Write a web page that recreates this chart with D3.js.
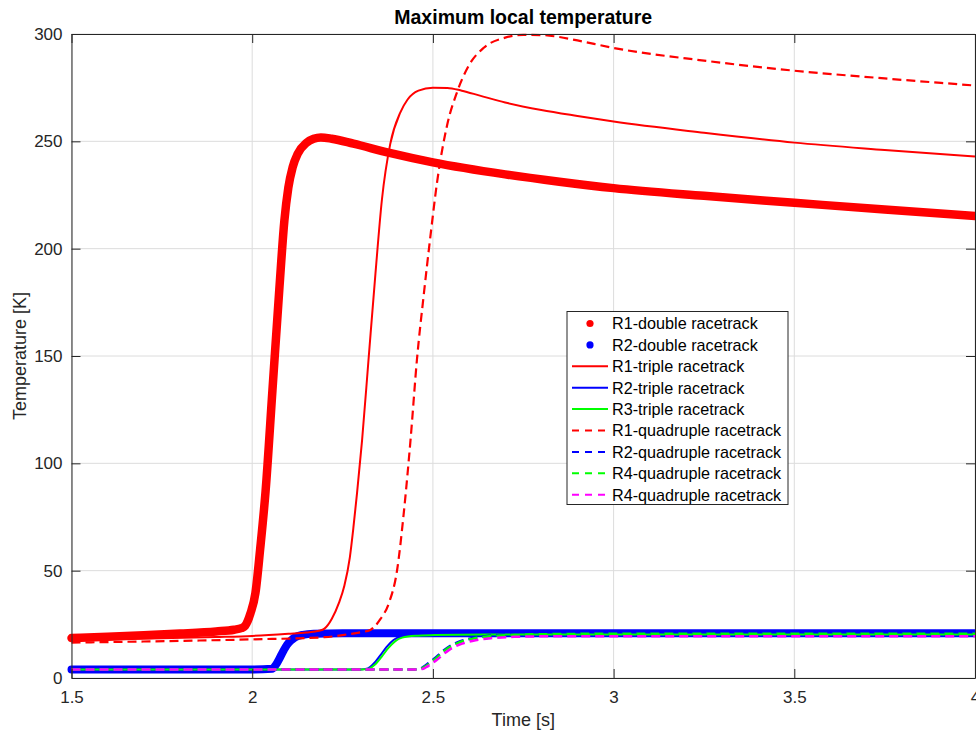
<!DOCTYPE html>
<html>
<head>
<meta charset="utf-8">
<script src="https://cdn.jsdelivr.net/npm/d3@7"></script>
<style>
  html, body { margin: 0; padding: 0; background: #ffffff; }
  svg { display: block; font-family: "Liberation Sans", Arial, sans-serif; }
</style>
</head>
<body>
<svg id="chart" width="976" height="734"></svg>
<script>
// ---------------- data ----------------
const xTicks = [1.5, 2, 2.5, 3, 3.5, 4];
const xTickLabels = ["1.5", "2", "2.5", "3", "3.5", "4"];
const yTicks = [0, 50, 100, 150, 200, 250, 300];
const yTickLabels = ["0", "50", "100", "150", "200", "250", "300"];

const tR1Double = [1.5, 1.6, 1.7, 1.8, 1.9, 1.95, 1.97, 1.98, 1.995, 2.009, 2.022, 2.037, 2.056, 2.075, 2.089, 2.1, 2.112, 2.126, 2.15, 2.17, 2.19, 2.22, 2.28, 2.38, 2.5, 2.7, 2.85, 3.0, 3.25, 3.5, 3.75, 4.0];
const vR1Double = [18.6, 19.2, 19.9, 20.7, 21.7, 22.5, 23.2, 24.2, 30, 39.6, 60, 87, 134, 181, 213, 228.4, 238, 244.2, 249.3, 251.2, 251.8, 251.2, 248.9, 244.6, 240.2, 234.6, 231.2, 228.2, 224.6, 221.4, 218.2, 215.2];

const tR2Double = [1.5, 2.0, 2.055, 2.065, 2.078, 2.087, 2.096, 2.108, 2.119, 2.14, 2.17, 2.25, 2.5, 3.0, 3.5, 4.0];
const vR2Double = [4.0, 4.0, 4.3, 6.0, 9.9, 12.8, 15.4, 17.6, 19.0, 20.1, 20.6, 20.8, 20.8, 20.8, 20.8, 20.8];

const tR1Triple = [1.5, 1.7, 1.9, 2.0, 2.1, 2.15, 2.185, 2.2, 2.22, 2.24, 2.255, 2.27, 2.28, 2.29, 2.304, 2.322, 2.341, 2.359, 2.382, 2.41, 2.43, 2.46, 2.5, 2.54, 2.58, 2.63, 2.7, 2.8, 2.9, 3.0, 3.25, 3.5, 3.75, 4.0];
const vR1Triple = [17.8, 18.4, 19.1, 19.6, 20.6, 21.2, 22.0, 23.0, 27.5, 35, 43, 56, 70, 86, 110.7, 148.6, 188.3, 222.9, 248.8, 263.5, 269.5, 273.6, 275.0, 274.9, 273.6, 271.3, 268.1, 264.6, 261.8, 259.2, 254.0, 249.4, 246.0, 242.9];

const tR2Triple = [1.5, 2.3, 2.32, 2.335, 2.355, 2.372, 2.391, 2.41, 2.447, 2.5, 2.63, 3.0, 4.0];
const vR2Triple = [4.0, 4.0, 4.5, 6.5, 10.7, 14.5, 17.7, 19.2, 20.1, 20.5, 20.8, 20.8, 20.8];

const tR3Triple = [1.5, 2.305, 2.325, 2.34, 2.36, 2.377, 2.396, 2.415, 2.452, 2.505, 2.64, 3.0, 4.0];
const vR3Triple = [4.0, 4.0, 4.5, 6.3, 10.3, 14.0, 17.2, 18.8, 19.7, 20.0, 20.3, 20.3, 20.3];

const tR1Quad = [1.5, 1.8, 2.0, 2.2, 2.262, 2.3, 2.327, 2.341, 2.355, 2.378, 2.401, 2.419, 2.438, 2.456, 2.475, 2.493, 2.512, 2.539, 2.567, 2.6, 2.64, 2.7, 2.75, 2.8, 2.85, 2.9, 3.0, 3.25, 3.5, 3.75, 4.0];
const vR1Quad = [16.5, 17.3, 18.0, 19.0, 20.3, 21.3, 22.4, 24.4, 27.5, 34.8, 50.3, 76.2, 110.7, 148.6, 179, 205.6, 231.5, 257.3, 273, 285.5, 293.5, 298.3, 299.6, 299.5, 298.6, 297.0, 293.5, 287.6, 282.9, 279.3, 276.0];

const tR2Quad = [1.5, 2.45, 2.465, 2.475, 2.49, 2.507, 2.522, 2.539, 2.557, 2.576, 2.613, 2.659, 2.724, 2.8, 3.0, 4.0];
const vR2Quad = [4.0, 4.0, 4.3, 5.3, 7.2, 9.4, 11.7, 14.0, 15.7, 17.1, 18.7, 19.7, 20.3, 20.6, 20.8, 20.8];

const tR4QuadG = [1.5, 2.452, 2.467, 2.477, 2.492, 2.509, 2.524, 2.541, 2.559, 2.578, 2.615, 2.661, 2.726, 2.8, 3.0, 4.0];
const vR4QuadG = [4.0, 4.0, 4.3, 5.2, 7.0, 9.2, 11.5, 13.8, 15.5, 16.9, 18.5, 19.5, 20.1, 20.4, 20.6, 20.6];

const tR4QuadM = [1.5, 2.455, 2.47, 2.48, 2.495, 2.512, 2.527, 2.544, 2.562, 2.581, 2.618, 2.664, 2.729, 2.8, 3.0, 4.0];
const vR4QuadM = [4.0, 4.0, 4.2, 4.9, 6.5, 8.6, 10.8, 13.0, 14.7, 16.0, 17.6, 18.6, 19.2, 19.4, 19.5, 19.5];

const seriesNames = ["R1-double racetrack", "R2-double racetrack", "R1-triple racetrack", "R2-triple racetrack", "R3-triple racetrack", "R1-quadruple racetrack", "R2-quadruple racetrack", "R4-quadruple racetrack", "R4-quadruple racetrack"];

// ---------------- styles ----------------
const series = [
  { name: seriesNames[0], t: tR1Double, v: vR1Double, color: "#ff0000", width: 8.5, dash: null, dots: true },
  { name: seriesNames[1], t: tR2Double, v: vR2Double, color: "#0000ff", width: 8, dash: null, dots: true },
  { name: seriesNames[2], t: tR1Triple, v: vR1Triple, color: "#ff0000", width: 2, dash: null },
  { name: seriesNames[3], t: tR2Triple, v: vR2Triple, color: "#0000ff", width: 2, dash: null },
  { name: seriesNames[4], t: tR3Triple, v: vR3Triple, color: "#00ff00", width: 2, dash: null },
  { name: seriesNames[5], t: tR1Quad, v: vR1Quad, color: "#ff0000", width: 2.2, dash: "9,5" },
  { name: seriesNames[6], t: tR2Quad, v: vR2Quad, color: "#0000ff", width: 2.5, dash: "9,5" },
  { name: seriesNames[7], t: tR4QuadG, v: vR4QuadG, color: "#00ff00", width: 2.5, dash: "9,5" },
  { name: seriesNames[8], t: tR4QuadM, v: vR4QuadM, color: "#ff00ff", width: 2.5, dash: "9,5" }
];

const svg = d3.select("#chart");
const L = 71.5, R = 975, T = 34, B = 678;
const x = d3.scaleLinear().domain([1.5, 4]).range([L, R]);
const y = d3.scaleLinear().domain([0, 300]).range([B, T]);
const axisColor = "#262626";
const fontFam = "Liberation Sans, Arial, sans-serif";

// grid
const grid = svg.append("g");
grid.selectAll("line.gx").data(xTicks).enter().append("line")
  .attr("x1", d => x(d)).attr("x2", d => x(d)).attr("y1", T).attr("y2", B)
  .attr("stroke", "#dcdcdc").attr("stroke-width", 1);
grid.selectAll("line.gy").data(yTicks).enter().append("line")
  .attr("x1", L).attr("x2", R).attr("y1", d => y(d)).attr("y2", d => y(d))
  .attr("stroke", "#dcdcdc").attr("stroke-width", 1);

// lines
const lines = svg.append("g");
series.forEach(s => {
  const pts = s.t.map((t, i) => [t, s.v[i]]);
  const gen = d3.line().x(d => x(d[0])).y(d => y(d[1])).curve(d3.curveMonotoneX);
  const p = lines.append("path").attr("d", gen(pts))
    .attr("fill", "none").attr("stroke", s.color)
    .attr("stroke-width", s.width)
    .attr("stroke-linejoin", "round")
    .attr("stroke-linecap", s.dots ? "round" : "butt");
  if (s.dash) p.attr("stroke-dasharray", s.dash);
});

// bottom axis
const xAxis = d3.axisBottom(x).tickValues(xTicks).tickFormat((d, i) => xTickLabels[i]).tickSizeInner(-9).tickSizeOuter(0).tickPadding(13);
const gx = svg.append("g").attr("transform", `translate(0,${B})`).call(xAxis);
gx.select(".domain").attr("stroke", axisColor);
gx.selectAll(".tick line").attr("stroke", axisColor);
gx.selectAll(".tick text").attr("fill", axisColor).attr("font-size", 17).attr("font-family", fontFam);

const yAxis = d3.axisLeft(y).tickValues(yTicks).tickFormat((d, i) => yTickLabels[i]).tickSizeInner(-9).tickSizeOuter(0).tickPadding(9);
const gy = svg.append("g").attr("transform", `translate(${L},0)`).call(yAxis);
gy.select(".domain").attr("stroke", axisColor);
gy.selectAll(".tick line").attr("stroke", axisColor);
gy.selectAll(".tick text").attr("fill", axisColor).attr("font-size", 17).attr("font-family", fontFam);

// top & right axes
const xTop = d3.axisTop(x).tickValues(xTicks).tickFormat("").tickSizeInner(-9).tickSizeOuter(0);
const gxt = svg.append("g").attr("transform", `translate(0,${T})`).call(xTop);
gxt.select(".domain").attr("stroke", axisColor);
gxt.selectAll(".tick line").attr("stroke", axisColor);
const yRight = d3.axisRight(y).tickValues(yTicks).tickFormat("").tickSizeInner(-9).tickSizeOuter(0);
const gyr = svg.append("g").attr("transform", `translate(${R},0)`).call(yRight);
gyr.select(".domain").attr("stroke", axisColor);
gyr.selectAll(".tick line").attr("stroke", axisColor);

// title and labels
svg.append("text").attr("x", (L + R) / 2).attr("y", 24).attr("text-anchor", "middle")
  .attr("font-size", 19.5).attr("font-weight", "bold").attr("fill", "#000")
  .text("Maximum local temperature");
svg.append("text").attr("x", (L + R) / 2).attr("y", 726).attr("text-anchor", "middle")
  .attr("font-size", 18).attr("fill", axisColor).text("Time [s]");
svg.append("text").attr("transform", `translate(26,${(T + B) / 2}) rotate(-90)`).attr("text-anchor", "middle")
  .attr("font-size", 18).attr("fill", axisColor).text("Temperature [K]");

// legend
const lg = svg.append("g");
const lgX = 567, lgY = 311.5, lgW = 221, lgH = 193, rowH = 21.4, firstRow = 323.5;
lg.append("rect").attr("x", lgX).attr("y", lgY).attr("width", lgW).attr("height", lgH)
  .attr("fill", "#fff").attr("stroke", axisColor).attr("stroke-width", 1);
series.forEach((s, i) => {
  const cy = firstRow + i * rowH;
  if (s.dots) {
    lg.append("circle").attr("cx", 590).attr("cy", cy).attr("r", 3.6).attr("fill", s.color);
  } else {
    const ln = lg.append("line").attr("x1", 572).attr("x2", 608).attr("y1", cy).attr("y2", cy)
      .attr("stroke", s.color).attr("stroke-width", 2);
    if (s.dash) ln.attr("stroke-dasharray", "7,6");
  }
  lg.append("text").attr("x", 612).attr("y", cy).attr("dy", "0.36em")
    .attr("font-size", 16.2).attr("fill", "#000").text(s.name);
});
</script>
</body>
</html>
